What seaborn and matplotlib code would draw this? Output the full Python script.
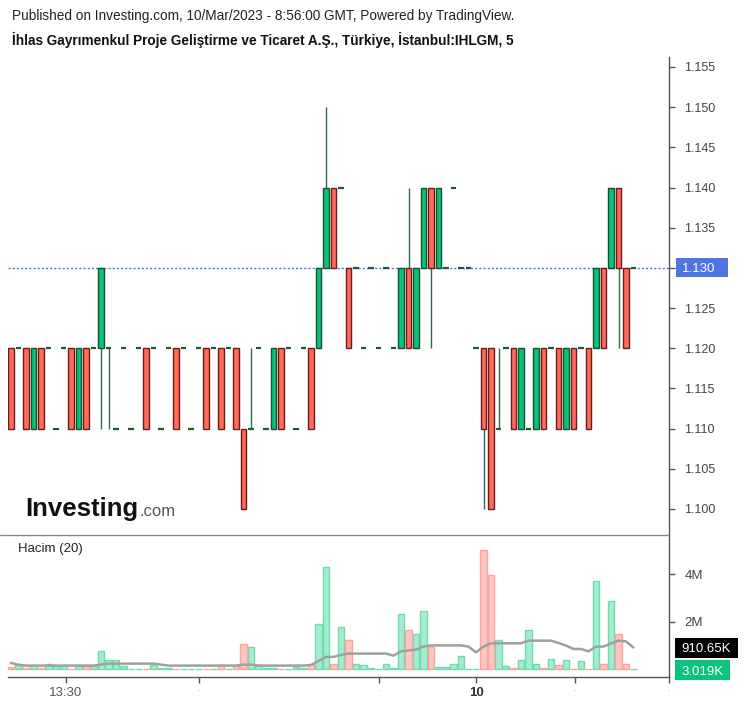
import matplotlib
matplotlib.use("Agg")
import matplotlib.pyplot as plt
from matplotlib.lines import Line2D
from matplotlib.patches import Rectangle
import numpy as np
import pandas as pd
import seaborn as sns

# ---------------- data ----------------
opens = [1.12, 1.12, 1.12, 1.11, 1.12, 1.12, 1.11, 1.12, 1.12, 1.11,
         1.12, 1.12, 1.12, 1.12, 1.11, 1.12, 1.11, 1.12, 1.12, 1.12,
         1.11, 1.12, 1.12, 1.12, 1.11, 1.12, 1.12, 1.12, 1.12, 1.12,
         1.12, 1.11, 1.11, 1.12, 1.11, 1.11, 1.12, 1.12, 1.11, 1.12,
         1.12, 1.12, 1.13, 1.14, 1.14, 1.13, 1.13, 1.12, 1.13, 1.12,
         1.13, 1.12, 1.12, 1.13, 1.12, 1.13, 1.14, 1.13, 1.13, 1.14,
         1.13, 1.13, 1.12, 1.12, 1.12, 1.11, 1.12, 1.12, 1.11, 1.11,
         1.11, 1.12, 1.12, 1.12, 1.11, 1.12, 1.12, 1.12, 1.12, 1.13,
         1.13, 1.14, 1.13, 1.13]
closes = [1.11, 1.12, 1.11, 1.12, 1.11, 1.12, 1.11, 1.12, 1.11, 1.12,
          1.11, 1.12, 1.13, 1.12, 1.11, 1.12, 1.11, 1.12, 1.11, 1.12,
          1.11, 1.12, 1.11, 1.12, 1.11, 1.12, 1.11, 1.12, 1.11, 1.12,
          1.11, 1.10, 1.11, 1.12, 1.11, 1.12, 1.11, 1.12, 1.11, 1.12,
          1.11, 1.13, 1.14, 1.13, 1.14, 1.12, 1.13, 1.12, 1.13, 1.12,
          1.13, 1.12, 1.13, 1.12, 1.13, 1.14, 1.13, 1.14, 1.13, 1.14,
          1.13, 1.13, 1.12, 1.11, 1.10, 1.11, 1.12, 1.11, 1.12, 1.11,
          1.12, 1.11, 1.12, 1.11, 1.12, 1.11, 1.12, 1.11, 1.13, 1.12,
          1.14, 1.13, 1.12, 1.13]
highs = [1.12, 1.12, 1.12, 1.12, 1.12, 1.12, 1.11, 1.12, 1.12, 1.12,
         1.12, 1.12, 1.13, 1.12, 1.11, 1.12, 1.11, 1.12, 1.12, 1.12,
         1.11, 1.12, 1.12, 1.12, 1.11, 1.12, 1.12, 1.12, 1.12, 1.12,
         1.12, 1.11, 1.12, 1.12, 1.11, 1.12, 1.12, 1.12, 1.11, 1.12,
         1.12, 1.13, 1.15, 1.14, 1.14, 1.13, 1.13, 1.12, 1.13, 1.12,
         1.13, 1.12, 1.13, 1.14, 1.13, 1.14, 1.14, 1.14, 1.13, 1.14,
         1.13, 1.13, 1.12, 1.12, 1.12, 1.12, 1.12, 1.12, 1.12, 1.11,
         1.12, 1.12, 1.12, 1.12, 1.12, 1.12, 1.12, 1.12, 1.13, 1.13,
         1.14, 1.14, 1.13, 1.13]
lows = [1.11, 1.12, 1.11, 1.11, 1.11, 1.12, 1.11, 1.12, 1.11, 1.11,
        1.11, 1.12, 1.11, 1.11, 1.11, 1.12, 1.11, 1.12, 1.11, 1.12,
        1.11, 1.12, 1.11, 1.12, 1.11, 1.12, 1.11, 1.12, 1.11, 1.12,
        1.11, 1.10, 1.11, 1.12, 1.11, 1.11, 1.11, 1.12, 1.11, 1.12,
        1.11, 1.12, 1.13, 1.13, 1.14, 1.12, 1.13, 1.12, 1.13, 1.12,
        1.13, 1.12, 1.12, 1.12, 1.12, 1.13, 1.12, 1.13, 1.13, 1.14,
        1.13, 1.13, 1.12, 1.10, 1.10, 1.11, 1.12, 1.11, 1.11, 1.11,
        1.11, 1.11, 1.12, 1.11, 1.11, 1.11, 1.12, 1.11, 1.12, 1.12,
        1.13, 1.12, 1.12, 1.13]
volumes_k = [93, 232, 50, 177, 30, 232, 148, 177, 10, 177,
             148, 148, 780, 400, 400, 148, 20, 20, 10, 177,
             40, 40, 10, 10, 20, 10, 10, 10, 177, 10,
             177, 1080, 937, 177, 40, 40, 15, 10, 93, 40,
             232, 1920, 4300, 232, 1780, 1245, 232, 190, 40, 10,
             232, 40, 2340, 1670, 1500, 2450, 920, 80, 80, 232,
             540, 10, 10, 5040, 3950, 1245, 148, 40, 400, 1670,
             232, 40, 443, 190, 400, 10, 345, 10, 3730, 232,
             2890, 1500, 232, 3.019]
vol_ma_k = [260, 177, 148, 148, 148, 148, 148, 148, 148, 148,
            148, 148, 190, 232, 232, 232, 232, 232, 232, 232,
            190, 148, 148, 148, 148, 148, 148, 148, 148, 148,
            148, 190, 190, 148, 148, 148, 148, 148, 148, 148,
            170, 345, 515, 515, 600, 654, 654, 654, 654, 654,
            654, 570, 750, 790, 823, 950, 1000, 1000, 1000, 1000,
            1000, 950, 710, 950, 1090, 1090, 1090, 1090, 1090, 1200,
            1200, 1200, 1200, 1105, 992, 850, 850, 750, 950, 950,
            1080, 1200, 1170, 910.65]
price_ticks = [1.100, 1.105, 1.110, 1.115, 1.120, 1.125, 1.130,
               1.135, 1.140, 1.145, 1.150, 1.155]
vol_ticks = [2e6, 4e6]
vol_tick_labels = ["2M", "4M"]
x_tick_pos = [7.3, 25.1, 49.1, 62.0, 75.2, 87.7]
x_tick_labels = ["13:30", "-", "-", "10", "-", "-"]
last_price = 1.130
last_price_label = "1.130"
ma_label = "910.65K"
last_vol_label = "3.019K"

title1 = "Published on Investing.com, 10/Mar/2023 - 8:56:00 GMT, Powered by TradingView."
title2 = "İhlas Gayrımenkul Proje Geliştirme ve Ticaret A.Ş., Türkiye, İstanbul:IHLGM, 5"

# ---------------- styling ----------------
sns.set_theme(style="white")
plt.rcParams["font.family"] = ["Liberation Sans", "DejaVu Sans"]

UP = "#0bc27a"
DN = "#ff6a5e"
UP_EDGE = "#16502f"
DN_EDGE = "#6a1d16"
WICK = "#2f6a4c"
VUP = "#a5ebd0"
VUP_E = "#6fdcae"
VDN = "#ffc7c3"
VDN_E = "#ffa39c"
AXC = "#555555"
LBL = 9

df = pd.DataFrame({"idx": np.arange(len(opens)), "open": opens, "close": closes,
                   "high": highs, "low": lows,
                   "vol": np.array(volumes_k) * 1e3, "ma": np.array(vol_ma_k) * 1e3})
df["up"] = df["close"] >= df["open"]

W, H = 746, 707
fig = plt.figure(figsize=(W / 100, H / 100), dpi=100)
L, R = 8, 669
ax1 = fig.add_axes([L / W, 1 - 535 / H, (R - L) / W, (535 - 57) / H])
ax2 = fig.add_axes([L / W, 1 - 677 / H, (R - L) / W, (677 - 535) / H])

xlim = (-0.4, -0.4 + (R - L) / 7.5)

# ---------------- candles ----------------
ax1.vlines(df["idx"], df["low"], df["high"], color=WICK, lw=1.0, zorder=1)
bw = 0.74
for _, r in df.iterrows():
    o, c = r["open"], r["close"]
    if abs(o - c) < 1e-9:
        ax1.hlines(o, r["idx"] - bw / 2, r["idx"] + bw / 2, color="#1d5a38", lw=1.6, zorder=3)
    else:
        up = c > o
        ax1.bar(r["idx"] + 0.12, abs(c - o), bottom=min(o, c), width=bw,
                color="#c8c8c8", alpha=0.6, lw=0, zorder=1.5)
        ax1.bar(r["idx"], abs(c - o), bottom=min(o, c), width=bw,
                color=UP if up else DN, edgecolor=UP_EDGE if up else DN_EDGE,
                lw=1.0, zorder=2)

ax1.axhline(last_price, color="#4f75e0", lw=1.0, ls=(0, (1.5, 1.5)), zorder=0.5)
ax1.set_xlim(xlim)
ax1.set_ylim(1.09676, 1.15624)
ax1.set_yticks(price_ticks)
# the last-price tag covers the 1.130 tick label
ax1.set_yticklabels(["" if abs(t - last_price) < 1e-9 else f"{t:.3f}" for t in price_ticks])
ax1.yaxis.tick_right()
ax1.set_xticks([])
for s in ["top", "left", "bottom"]:
    ax1.spines[s].set_visible(False)
ax1.spines["right"].set_color(AXC)
ax1.spines["right"].set_linewidth(1.0)
ax1.tick_params(axis="y", right=True, direction="out", length=4, width=1,
                color=AXC, labelcolor="#444444", labelsize=LBL, pad=7)

# ---------------- volume ----------------
up_df = df[df["up"]]
dn_df = df[~df["up"]]
sns.barplot(data=up_df, x="idx", y="vol", native_scale=True, width=0.9,
            color=VUP, edgecolor=VUP_E, linewidth=1.0, saturation=1,
            errorbar=None, ax=ax2)
sns.barplot(data=dn_df, x="idx", y="vol", native_scale=True, width=0.9,
            color=VDN, edgecolor=VDN_E, linewidth=1.0, saturation=1,
            errorbar=None, ax=ax2)
sns.lineplot(data=df, x="idx", y="ma", color="#a0a0a0", lw=1.8, ax=ax2, zorder=5)
ax2.set_xlabel("")
ax2.set_ylabel("")
ax2.set_xlim(xlim)
ax2.set_ylim(-0.333e6, 5.658e6)
ax2.yaxis.tick_right()
ax2.set_yticks(vol_ticks)
ax2.set_yticklabels(vol_tick_labels)
ax2.set_xticks(x_tick_pos)
ax2.set_xticklabels(x_tick_labels)
for s in ["top", "left"]:
    ax2.spines[s].set_visible(False)
for s in ["right", "bottom"]:
    ax2.spines[s].set_color(AXC)
    ax2.spines[s].set_linewidth(1.0)
ax2.tick_params(axis="y", right=True, direction="out", length=4, width=1,
                color=AXC, labelcolor="#444444", labelsize=LBL + 0.5, pad=7)
ax2.tick_params(axis="x", bottom=True, direction="out", length=4, width=1,
                color=AXC, labelcolor="#555555", labelsize=LBL + 0.5, pad=3)
for lab in ax2.get_xticklabels():
    if lab.get_text() == "10":
        lab.set_fontweight("bold")
        lab.set_color("#333333")
    elif lab.get_text() == "-":
        lab.set_fontsize(5)
        lab.set_color("#bbbbbb")

ax2.text(10 / (R - L), 1 - 14 / 142, "Hacim (20)", transform=ax2.transAxes,
         fontsize=9.5, color="#222222", va="center", ha="left")

# ---------------- right-side value tags ----------------
def value_tag(ax, yval, text, fc, x0, x1, h, dy=0.0):
    ypix = ax.transData.transform((0, yval))[1] + dy
    fig.add_artist(Rectangle((x0 / W, (ypix - h / 2) / H), (x1 - x0) / W, h / H,
                             transform=fig.transFigure, fc=fc, ec="none", zorder=10))
    fig.text((x0 + 6) / W, ypix / H, text, color="white", fontsize=LBL + 0.5,
             va="center_baseline", ha="left", zorder=11)

value_tag(ax1, last_price, last_price_label, "#4f75e0", 676, 728, 19)
value_tag(ax2, vol_ma_k[-1] * 1e3, ma_label, "black", 675, 738, 20)
value_tag(ax2, volumes_k[-1] * 1e3, last_vol_label, "#0bc27a", 675, 730, 20, dy=-1)

# separator line between panes
fig.add_artist(Line2D([0, R / W], [1 - 535 / H] * 2, color="#888888", lw=1.0))

# ---------------- titles & logo ----------------
fig.text(12 / W, 1 - 16 / H, title1, fontsize=9.8, color="#222222", va="center", ha="left")
fig.text(12 / W, 1 - 40 / H, title2, fontsize=9.8, color="#111111", va="center",
         ha="left", fontweight="bold")
t = fig.text(25 / W, 1 - 516 / H, "Investing", fontsize=18.5, fontweight="bold",
             color="#111111", va="baseline", ha="left")
fig.canvas.draw()
bb = t.get_window_extent()
fig.text((bb.x1 + 1) / W, 1 - 516 / H, ".com", fontsize=12, color="#555555",
         va="baseline", ha="left")

fig.savefig("out.png", dpi=100)
